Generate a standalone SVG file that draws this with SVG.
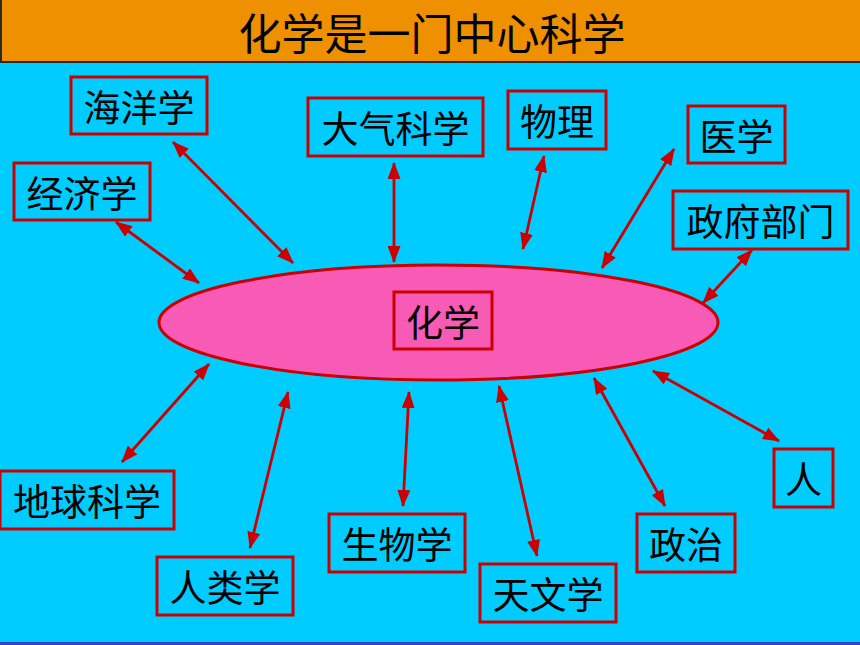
<svg xmlns="http://www.w3.org/2000/svg" width="860" height="645" viewBox="0 0 860 645">
<defs>
<style>
.box{fill:none;stroke:#CC0000;stroke-width:3}
.t{font-family:"Noto Sans CJK SC","Noto Sans CJK TC",sans-serif;font-size:37px;fill:#000;text-anchor:middle;dominant-baseline:central}
.c line{stroke:#CC0000;stroke-width:2.8;marker-start:url(#ah);marker-end:url(#ah)}
</style>
<marker id="ah" viewBox="0 0 17 13" refX="16" refY="6.5" markerWidth="17" markerHeight="13" markerUnits="userSpaceOnUse" orient="auto-start-reverse">
<path d="M0,0 L17,6.5 L0,13 Z" fill="#CC0000"/>
</marker>
</defs>
<rect x="0" y="0" width="860" height="645" fill="#00CCFF"/>
<rect x="0" y="642" width="860" height="3" fill="#3344CC"/>
<g id="title">
<rect x="1" y="-2" width="862" height="64" fill="#EE9000" stroke="#2A2A2A" stroke-width="2"/>
<text x="432" y="31" class="t" style="font-size:43px">化学是一门中心科学</text>
</g>
<g id="chem">
<ellipse cx="438.5" cy="322.5" rx="279.5" ry="57.5" fill="#F85BB5" stroke="#CC0000" stroke-width="3"/>
<rect class="box" x="394" y="292" width="98" height="57"/>
<text class="t" x="443" y="321">化学</text>
</g>
<g id="n1"><rect class="box" x="71" y="77" width="136" height="57"/><text class="t" x="139" y="106">海洋学</text></g>
<g id="n2"><rect class="box" x="14" y="163" width="136" height="57"/><text class="t" x="82" y="192">经济学</text></g>
<g id="n3"><rect class="box" x="308" y="98" width="175" height="58"/><text class="t" x="395.5" y="127">大气科学</text></g>
<g id="n4"><rect class="box" x="508" y="91" width="98" height="58"/><text class="t" x="557" y="120">物理</text></g>
<g id="n5"><rect class="box" x="688" y="106" width="97" height="57"/><text class="t" x="736.5" y="135">医学</text></g>
<g id="n6"><rect class="box" x="673" y="191" width="175" height="58"/><text class="t" x="760.5" y="220">政府部门</text></g>
<g id="n7"><rect class="box" x="0" y="471" width="174" height="58"/><text class="t" x="87" y="500">地球科学</text></g>
<g id="n8"><rect class="box" x="157" y="557" width="136" height="58"/><text class="t" x="225" y="586">人类学</text></g>
<g id="n9"><rect class="box" x="329" y="514" width="136" height="58"/><text class="t" x="397" y="543">生物学</text></g>
<g id="n10"><rect class="box" x="480" y="564" width="136" height="58"/><text class="t" x="548" y="593">天文学</text></g>
<g id="n11"><rect class="box" x="637" y="514" width="98" height="58"/><text class="t" x="686" y="543">政治</text></g>
<g id="n12"><rect class="box" x="774" y="449" width="59" height="58"/><text class="t" x="803.5" y="478">人</text></g>
<g id="connectors" class="c">
<line x1="173" y1="142" x2="293" y2="263"/>
<line x1="116" y1="222" x2="199" y2="283"/>
<line x1="394" y1="163" x2="394" y2="262"/>
<line x1="544" y1="156" x2="523" y2="249"/>
<line x1="674" y1="149" x2="602" y2="268"/>
<line x1="752" y1="250" x2="703" y2="303"/>
<line x1="209" y1="364" x2="122" y2="462"/>
<line x1="288" y1="392" x2="250" y2="548"/>
<line x1="409" y1="392" x2="403" y2="506"/>
<line x1="499" y1="386" x2="537" y2="556"/>
<line x1="594" y1="378" x2="665" y2="506"/>
<line x1="653" y1="371" x2="779" y2="441"/>
</g>
</svg>
